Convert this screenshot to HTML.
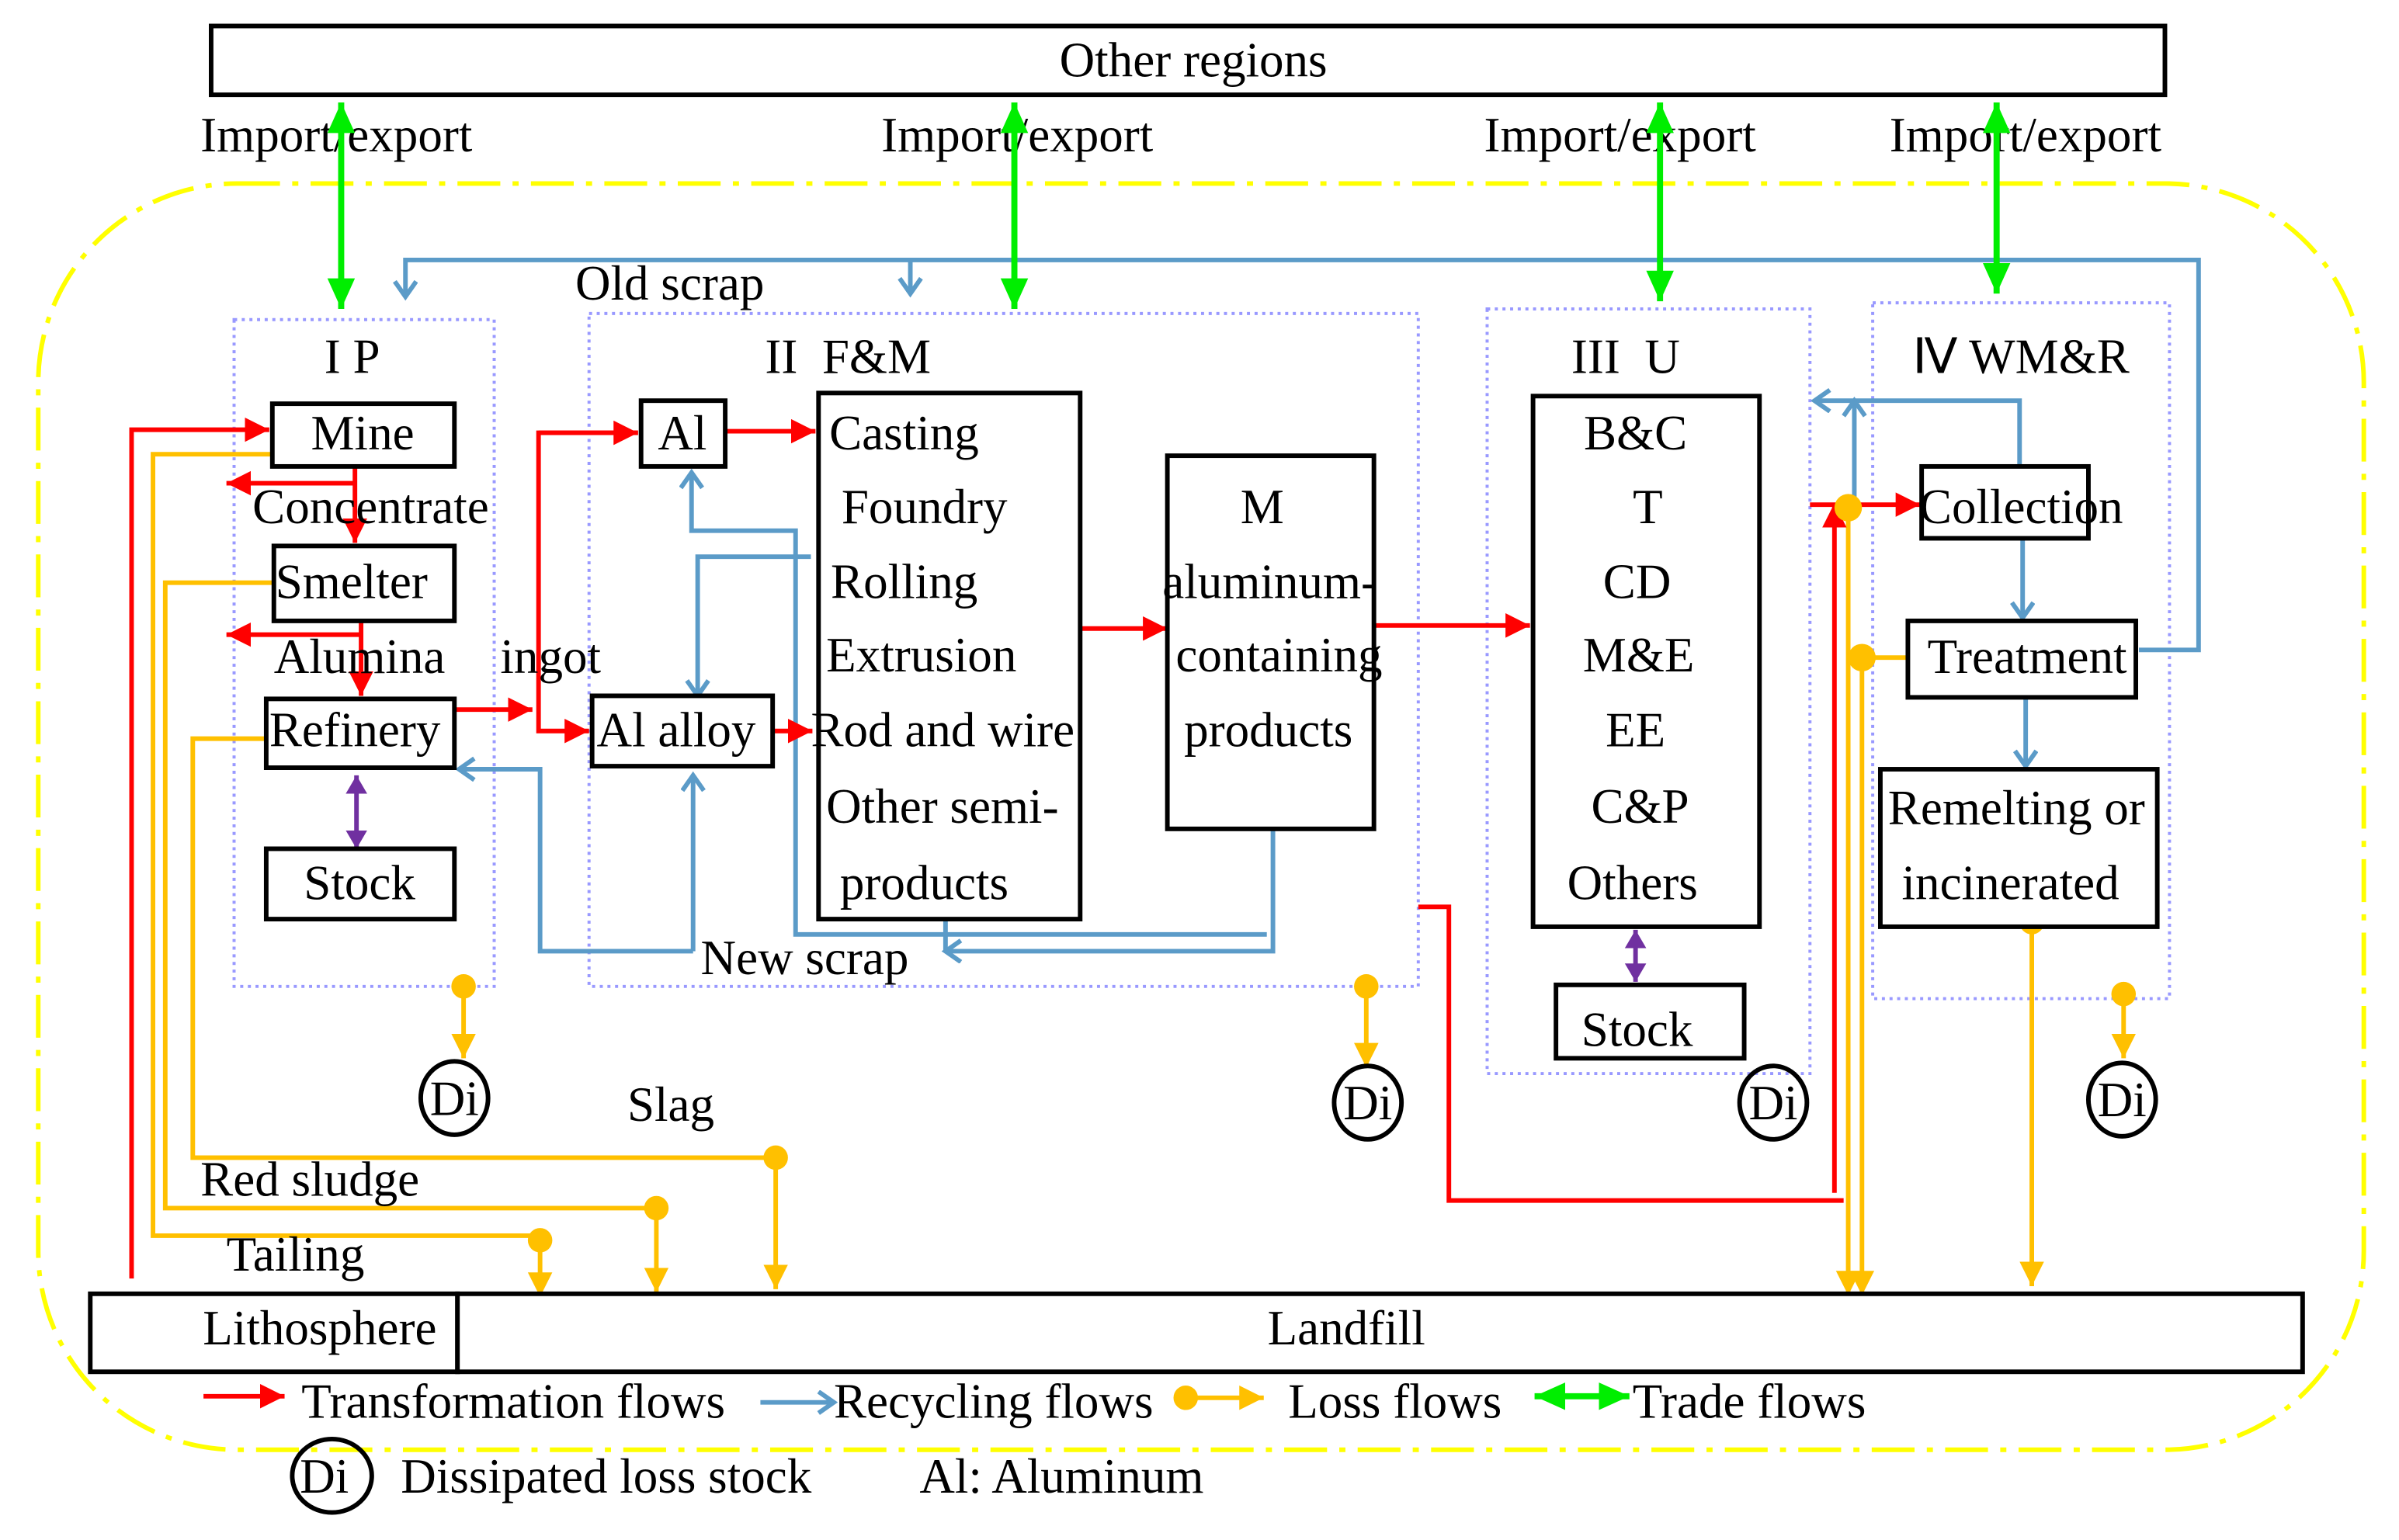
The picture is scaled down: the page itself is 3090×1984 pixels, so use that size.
<!DOCTYPE html>
<html><head><meta charset="utf-8"><style>
html,body{margin:0;padding:0;background:#fff;}
svg{display:block;}
svg text{font-family:'Liberation Serif','Times New Roman',Times,serif;font-size:32px;fill:#000;}
</style></head><body>
<svg width="3090" height="1984" viewBox="0 0 1568 1007" preserveAspectRatio="none" xmlns="http://www.w3.org/2000/svg" font-family="Liberation Serif, serif">
<defs>
<marker id="ar" markerUnits="userSpaceOnUse" markerWidth="20" markerHeight="20" refX="16" refY="8" orient="auto"><path d="M0,0 L16,8 L0,16 Z" fill="#ff0000"/></marker>
<marker id="ay" markerUnits="userSpaceOnUse" markerWidth="20" markerHeight="20" refX="16" refY="8" orient="auto"><path d="M0,0 L16,8 L0,16 Z" fill="#ffc000"/></marker>
<marker id="ag" markerUnits="userSpaceOnUse" markerWidth="24" markerHeight="24" refX="20" refY="9" orient="auto"><path d="M0,0 L20,9 L0,18 Z" fill="#00ee00"/></marker>
<marker id="ags" markerUnits="userSpaceOnUse" markerWidth="24" markerHeight="24" refX="0" refY="9" orient="auto"><path d="M20,0 L0,9 L20,18 Z" fill="#00ee00"/></marker>
<marker id="ap" markerUnits="userSpaceOnUse" markerWidth="20" markerHeight="20" refX="12" refY="7" orient="auto"><path d="M0,0 L12,7 L0,14 Z" fill="#7030a0"/></marker>
<marker id="aps" markerUnits="userSpaceOnUse" markerWidth="20" markerHeight="20" refX="0" refY="7" orient="auto"><path d="M12,0 L0,7 L12,14 Z" fill="#7030a0"/></marker>
<marker id="ab" markerUnits="userSpaceOnUse" markerWidth="20" markerHeight="20" refX="12" refY="8" orient="auto"><path d="M2,1 L12,8 L2,15" fill="none" stroke="#5b9bc8" stroke-width="3"/></marker>
</defs>

<rect x="25" y="120" width="1520" height="828" rx="130" ry="130" fill="none" stroke="#ffff00" stroke-width="3" stroke-dasharray="28 8 4 8"/>

<g fill="none" stroke="#9999ff" stroke-width="2" stroke-dasharray="2 3">
<rect x="153" y="209" width="170" height="436"/>
<rect x="385" y="205" width="542" height="440"/>
<rect x="972" y="202" width="211" height="500"/>
<rect x="1224" y="198" width="194" height="455"/>
</g>

<rect x="138" y="17" width="1277" height="45" fill="none" stroke="#000" stroke-width="3"/>
<text x="780" y="50" text-anchor="middle">Other regions</text>
<text x="131" y="99">Import/export</text>
<text x="576" y="99">Import/export</text>
<text x="970" y="99">Import/export</text>
<text x="1235" y="99">Import/export</text>

<g fill="none" stroke="#5b9bc8" stroke-width="3">
<polyline points="1398,425 1437,425 1437,170 265,170 265,194" marker-end="url(#ab)"/>
<line x1="595" y1="170" x2="595" y2="192" marker-end="url(#ab)"/>
<polyline points="1320,305 1320,262 1186,262" marker-end="url(#ab)"/>
<line x1="1212" y1="335" x2="1212" y2="262" marker-end="url(#ab)"/>
<line x1="1322" y1="352" x2="1322" y2="404" marker-end="url(#ab)"/>
<line x1="1324" y1="456" x2="1324" y2="501" marker-end="url(#ab)"/>
<polyline points="832,542 832,622 618,622" marker-end="url(#ab)"/>
<polyline points="828,611 520,611 520,347 452,347 452,309" marker-end="url(#ab)"/>
<polyline points="530,364 456,364 456,455" marker-end="url(#ab)"/>
<polyline points="618,601 618,622"/>
<polyline points="453,622 353,622 353,503 300,503" marker-end="url(#ab)"/>
<line x1="453" y1="622" x2="453" y2="507" marker-end="url(#ab)"/>
</g>
<text x="376" y="196">Old scrap</text>

<g stroke="#00ee00" stroke-width="4">
<line x1="223" y1="67" x2="223" y2="202" marker-end="url(#ag)" marker-start="url(#ags)"/>
<line x1="663" y1="67" x2="663" y2="202" marker-end="url(#ag)" marker-start="url(#ags)"/>
<line x1="1085" y1="67" x2="1085" y2="197" marker-end="url(#ag)" marker-start="url(#ags)"/>
<line x1="1305" y1="67" x2="1305" y2="192" marker-end="url(#ag)" marker-start="url(#ags)"/>
</g>

<g fill="none" stroke="#ffc000" stroke-width="3">
<polyline points="178,297 100,297 100,808 353,808 353,848" marker-end="url(#ay)"/>
<polyline points="178,381 108,381 108,790 429,790 429,845" marker-end="url(#ay)"/>
<polyline points="174,483 126,483 126,757 507,757 507,843" marker-end="url(#ay)"/>
<line x1="303" y1="645" x2="303" y2="692" marker-end="url(#ay)"/>
<line x1="893" y1="645" x2="893" y2="698" marker-end="url(#ay)"/>
<line x1="1388" y1="650" x2="1388" y2="692" marker-end="url(#ay)"/>
<line x1="1208" y1="332" x2="1208" y2="847" marker-end="url(#ay)"/>
<polyline points="1247,430 1217,430 1217,847" marker-end="url(#ay)"/>
<line x1="1328" y1="603" x2="1328" y2="841" marker-end="url(#ay)"/>
</g>
<g fill="#ffc000">
<circle cx="353" cy="811" r="8"/><circle cx="429" cy="790" r="8"/><circle cx="507" cy="757" r="8"/>
<circle cx="303" cy="645" r="8"/><circle cx="893" cy="645" r="8"/><circle cx="1388" cy="650" r="8"/>
<circle cx="1328" cy="603" r="8"/>
</g>

<g fill="none" stroke="#ff0000" stroke-width="3">
<polyline points="86,836 86,281 176,281" marker-end="url(#ar)"/>
<line x1="232" y1="305" x2="232" y2="355" marker-end="url(#ar)"/>
<line x1="232" y1="316" x2="148" y2="316" marker-end="url(#ar)"/>
<line x1="236" y1="406" x2="236" y2="455" marker-end="url(#ar)"/>
<line x1="236" y1="415" x2="148" y2="415" marker-end="url(#ar)"/>
<line x1="297" y1="464" x2="348" y2="464" marker-end="url(#ar)"/>
<polyline points="417,283 352,283 352,478 385,478" marker-end="url(#ar)"/>
<line x1="352" y1="283" x2="417" y2="283" marker-end="url(#ar)"/>
<line x1="474" y1="282" x2="533" y2="282" marker-end="url(#ar)"/>
<line x1="505" y1="478" x2="531" y2="478" marker-end="url(#ar)"/>
<line x1="706" y1="411" x2="763" y2="411" marker-end="url(#ar)"/>
<line x1="898" y1="409" x2="1000" y2="409" marker-end="url(#ar)"/>
<polyline points="927,593 947,593 947,785 1205,785"/>
<line x1="1199" y1="780" x2="1199" y2="329" marker-end="url(#ar)"/>
<line x1="1183" y1="330" x2="1255" y2="330" marker-end="url(#ar)"/>
</g>
<g fill="#ffc000"><circle cx="1208" cy="332" r="9"/><circle cx="1217" cy="430" r="9"/></g>

<g stroke="#7030a0" stroke-width="3">
<line x1="233" y1="507" x2="233" y2="555" marker-end="url(#ap)" marker-start="url(#aps)"/>
<line x1="1069" y1="608" x2="1069" y2="642" marker-end="url(#ap)" marker-start="url(#aps)"/>
</g>

<g fill="#fff" stroke="#000" stroke-width="3">
<rect x="178" y="264" width="119" height="41"/>
<rect x="179" y="357" width="118" height="49"/>
<rect x="174" y="457" width="123" height="45"/>
<rect x="174" y="555" width="123" height="46"/>
<rect x="419" y="262" width="55" height="43"/>
<rect x="387" y="455" width="118" height="46"/>
<rect x="535" y="257" width="171" height="344"/>
<rect x="763" y="298" width="135" height="244"/>
<rect x="1002" y="259" width="148" height="347"/>
<rect x="1017" y="644" width="123" height="48"/>
<rect x="1256" y="305" width="109" height="47"/>
<rect x="1247" y="406" width="149" height="50"/>
<rect x="1229" y="503" width="181" height="103"/>
<rect x="59" y="846" width="240" height="51"/>
<rect x="299" y="846" width="1206" height="51"/>
</g>

<g fill="none" stroke="#000" stroke-width="3">
<ellipse cx="297" cy="718" rx="22" ry="24"/>
<ellipse cx="894" cy="721" rx="22" ry="24"/>
<ellipse cx="1159" cy="721" rx="22" ry="24"/>
<ellipse cx="1387" cy="719" rx="22" ry="24"/>
<ellipse cx="217" cy="965" rx="26" ry="24"/>
</g>

<text x="212" y="244">I P</text>
<text x="500" y="244">II &#160;F&amp;M</text>
<text x="1027" y="244">III &#160;U</text>
<text x="1250" y="244">Ⅳ WM&amp;R</text>
<text x="237" y="294" text-anchor="middle">Mine</text>
<text x="165" y="342">Concentrate</text>
<text x="180" y="391">Smelter</text>
<text x="179" y="440">Alumina</text>
<text x="327" y="440">ingot</text>
<text x="176" y="488">Refinery</text>
<text x="235" y="588" text-anchor="middle">Stock</text>
<text x="446" y="294" text-anchor="middle">Al</text>
<text x="390" y="488">Al alloy</text>
<text x="542" y="294">Casting</text>
<text x="550" y="342">Foundry</text>
<text x="543" y="391">Rolling</text>
<text x="540" y="439">Extrusion</text>
<text x="530" y="488">Rod and wire</text>
<text x="540" y="538">Other semi-</text>
<text x="549" y="588">products</text>
<text x="825" y="342" text-anchor="middle">M</text>
<text x="830" y="391" text-anchor="middle">aluminum-</text>
<text x="836" y="439" text-anchor="middle">containing</text>
<text x="829" y="488" text-anchor="middle">products</text>
<text x="1069" y="294" text-anchor="middle">B&amp;C</text>
<text x="1077" y="342" text-anchor="middle">T</text>
<text x="1070" y="391" text-anchor="middle">CD</text>
<text x="1071" y="439" text-anchor="middle">M&amp;E</text>
<text x="1069" y="488" text-anchor="middle">EE</text>
<text x="1072" y="538" text-anchor="middle">C&amp;P</text>
<text x="1067" y="588" text-anchor="middle">Others</text>
<text x="1070" y="684" text-anchor="middle">Stock</text>
<text x="1321" y="342" text-anchor="middle">Collection</text>
<text x="1325" y="440" text-anchor="middle">Treatment</text>
<text x="1234" y="539">Remelting or</text>
<text x="1243" y="588">incinerated</text>
<text x="458" y="637">New scrap</text>
<text x="410" y="733">Slag</text>
<text x="131" y="782">Red sludge</text>
<text x="148" y="831">Tailing</text>
<text x="209" y="879" text-anchor="middle">Lithosphere</text>
<text x="880" y="879" text-anchor="middle">Landfill</text>
<text x="297" y="729" text-anchor="middle">Di</text>
<text x="894" y="732" text-anchor="middle">Di</text>
<text x="1159" y="732" text-anchor="middle">Di</text>
<text x="1387" y="730" text-anchor="middle">Di</text>
<text x="212" y="976" text-anchor="middle">Di</text>

<line x1="133" y1="913" x2="186" y2="913" stroke="#ff0000" stroke-width="3" marker-end="url(#ar)"/>
<text x="197" y="927">Transformation flows</text>
<line x1="497" y1="917" x2="545" y2="917" stroke="#5b9bc8" stroke-width="3" marker-end="url(#ab)"/>
<text x="545" y="927">Recycling flows</text>
<circle cx="775" cy="914" r="8" fill="#ffc000"/>
<line x1="775" y1="914" x2="826" y2="914" stroke="#ffc000" stroke-width="3" marker-end="url(#ay)"/>
<text x="842" y="927">Loss flows</text>
<line x1="1003" y1="913" x2="1065" y2="913" stroke="#00ee00" stroke-width="4" marker-end="url(#ag)" marker-start="url(#ags)"/>
<text x="1067" y="927">Trade flows</text>
<text x="262" y="976">Dissipated loss stock</text>
<text x="601" y="976">Al: Aluminum</text>
</svg>
</body></html>
